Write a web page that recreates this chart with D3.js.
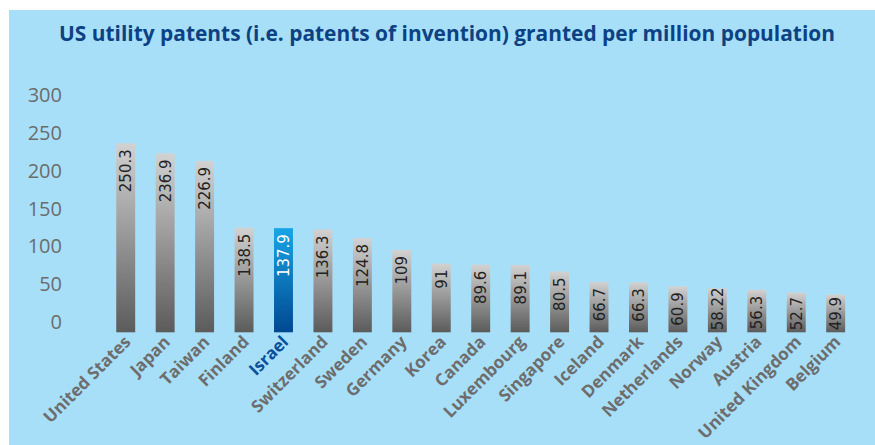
<!DOCTYPE html>
<html>
<head>
<meta charset="utf-8">
<script src="https://cdn.jsdelivr.net/npm/d3@7"></script>
<style>
  body { margin: 0; background: #fff; }
  svg { display: block; }
</style>
</head>
<body>
<div id="chart"></div>
<script>
var countries = ["United States", "Japan", "Taiwan", "Finland", "Israel", "Switzerland",
  "Sweden", "Germany", "Korea", "Canada", "Luxembourg", "Singapore", "Iceland",
  "Denmark", "Netherlands", "Norway", "Austria", "United Kingdom", "Belgium"];
var values = [250.3, 236.9, 226.9, 138.5, 137.9, 136.3, 124.8, 109, 91, 89.6, 89.1,
  80.5, 66.7, 66.3, 60.9, 58.22, 56.3, 52.7, 49.9];
var labels = ["250.3", "236.9", "226.9", "138.5", "137.9", "136.3", "124.8", "109", "91",
  "89.6", "89.1", "80.5", "66.7", "66.3", "60.9", "58.22", "56.3", "52.7", "49.9"];
var yTicks = [0, 50, 100, 150, 200, 250, 300];
var highlight = "Israel";

var width = 875, height = 445;
var bg = "#a8dff8";

var svg = d3.select("#chart").append("svg")
  .attr("width", width)
  .attr("height", height);

var defs = svg.append("defs");
function grad(id, top, bottom) {
  var g = defs.append("linearGradient")
    .attr("id", id)
    .attr("x1", 0).attr("y1", 0).attr("x2", 0).attr("y2", 1);
  g.append("stop").attr("offset", "0%").attr("stop-color", top);
  g.append("stop").attr("offset", "100%").attr("stop-color", bottom);
}
grad("gray", "#d2d2d2", "#5b5b5b");
grad("blue", "#19a5e6", "#004891");

svg.append("rect")
  .attr("x", 9).attr("y", 10)
  .attr("width", width - 9).attr("height", height - 10)
  .attr("fill", bg);

svg.append("text")
  .attr("x", 447).attr("y", 41)
  .attr("text-anchor", "middle")
  .attr("textLength", 776)
  .attr("lengthAdjust", "spacingAndGlyphs")
  .style("font-family", "'Open Sans', sans-serif")
  .style("font-weight", 700)
  .style("font-size", "21px")
  .style("fill", "#0c4283")
  .text("US utility patents (i.e. patents of invention) granted per million population");

var x = d3.scaleBand()
  .domain(countries)
  .range([106, 855.4])
  .paddingInner(0.52)
  .paddingOuter(0.26);

var y = d3.scaleLinear()
  .domain([0, 300])
  .range([332.3, 105.7]);

// gridlines + y labels
var yAxis = d3.axisLeft(y)
  .tickValues(yTicks)
  .tickSize(-(width - 9))
  .tickPadding(0)
  .tickFormat(d3.format("d"));

var ga = svg.append("g")
  .attr("transform", "translate(" + width + ",0)")
  .call(yAxis);
ga.select(".domain").remove();
ga.selectAll(".tick line")
  .attr("stroke", "#fff")
  .attr("stroke-width", 2);
ga.selectAll(".tick text")
  .attr("x", 62 - width)
  .attr("dy", "-4px")
  .attr("text-anchor", "end")
  .style("font-family", "'Open Sans', sans-serif")
  .style("font-size", "20px")
  .style("fill", "#6c6c6c");

// bars
svg.selectAll(".bar")
  .data(countries)
  .enter()
  .append("rect")
  .attr("class", "bar")
  .attr("x", function(d){ return x(d); })
  .attr("width", x.bandwidth())
  .attr("y", function(d, i){ return y(values[i]); })
  .attr("height", function(d, i){ return y(0) - y(values[i]); })
  .attr("fill", function(d){ return d === highlight ? "url(#blue)" : "url(#gray)"; });

// value labels, rotated inside the bars
var vals = svg.selectAll(".val")
  .data(countries)
  .enter()
  .append("text")
  .attr("class", "val")
  .attr("text-anchor", "end")
  .style("font-family", "'DejaVu Sans', sans-serif")
  .style("font-size", "15px")
  .style("fill", function(d){ return d === highlight ? "#fff" : "#222"; })
  .text(function(d, i){ return labels[i]; });

vals.attr("transform", function(d, i){
  var cx = x(d) + x.bandwidth() / 2;
  var len = this.getComputedTextLength();
  var top = y(values[i]) + 6;
  // keep the label inside short bars
  top = Math.min(top, y(0) - len - 2);
  return "translate(" + [cx + 5.5, top] + ") rotate(-90)";
});

// category labels
svg.selectAll(".cat")
  .data(countries)
  .enter()
  .append("text")
  .attr("class", "cat")
  .attr("transform", function(d){
    var cx = x(d) + x.bandwidth() / 2;
    return "translate(" + [cx + 6, 343] + ") rotate(-45)";
  })
  .attr("text-anchor", "end")
  .style("font-family", "'Open Sans', sans-serif")
  .style("font-weight", 700)
  .style("font-size", "17px")
  .style("fill", function(d){ return d === highlight ? "#0a4f9c" : "#6d6d6d"; })
  .text(function(d){ return d; });
</script>
</body>
</html>
